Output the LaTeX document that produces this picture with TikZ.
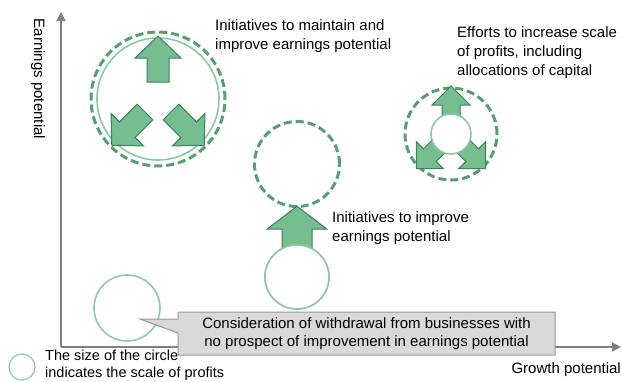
\documentclass[tikz,border=0pt]{standalone}
\usepackage{fontspec}
\setmainfont{Liberation Sans}
\usetikzlibrary{arrows.meta,shapes.callouts}

\definecolor{ringgreen}{RGB}{84,160,112}
\definecolor{palegreen}{RGB}{140,202,166}
\definecolor{arrowfill}{RGB}{118,190,146}
\definecolor{arrowedge}{RGB}{62,128,88}
\definecolor{axisgray}{RGB}{128,128,128}
\definecolor{boxfill}{RGB}{217,217,217}
\definecolor{boxedge}{RGB}{150,150,150}

\begin{document}
\begin{tikzpicture}[
  x=1pt, y=-1pt,
  lbl/.style={font=\fontsize{15}{19}\selectfont, inner sep=0pt, align=left},
  dashring/.style={circle, draw=ringgreen, line width=3pt, dash pattern=on 8pt off 4pt, inner sep=0pt},
  thinring/.style={circle, draw=palegreen, line width=1.6pt, fill=white, inner sep=0pt},
  axisline/.style={draw=axisgray, line width=2pt, -{Triangle[length=9pt,width=9pt]}},
  note/.style={rectangle callout, draw=boxedge, fill=boxfill, line width=1pt, callout pointer width=14pt,
    minimum width=377pt, minimum height=43pt, align=center, font=\fontsize{15}{18}\selectfont},
  pics/blockarrow/.style n args={4}{code={
    \filldraw[fill=arrowfill, draw=arrowedge, line width=1pt, line join=miter]
      (0,#3) -- ({#1-#4},#3) -- ({#1-#4},#2) -- (#1,0) -- ({#1-#4},-#2) -- ({#1-#4},-#3) -- (0,-#3) -- cycle;
  }}
]
\useasboundingbox (0,0) rectangle (622,381);

% axes
\coordinate (origin) at (61,347);
\coordinate (ytop) at (61,12);
\coordinate (xend) at (621,347);
\draw[axisline] (origin) -- (ytop);
\draw[axisline] (origin) -- (xend);
\node[lbl, rotate=-90] (ylabel) at (38,79) {Earnings potential};
\node[lbl, anchor=east] (xlabel) at (621,370) {Growth potential};

% maintain and improve
\node[dashring, minimum size=134pt] (maintain) at (158,99) {};
\node[thinring, minimum size=122pt] (maintaininner) at (maintain) {};
\pic[rotate=90] at (158,82) {blockarrow={46}{23}{11}{22}};
\pic[rotate=225] at (145,112) {blockarrow={47}{23}{11}{22}};
\pic[rotate=-45] at (171,112) {blockarrow={47}{23}{11}{22}};
\node[lbl, anchor=north west] (maintaintext) at (215,19) {Initiatives to maintain and\\improve earnings potential};

% scale of profits
\node[dashring, minimum size=92pt] (scale) at (451,134) {};
\pic[rotate=90] at (scale) {blockarrow={48}{19}{9}{19}};
\pic[rotate=225] at (scale) {blockarrow={49}{19}{9}{19}};
\pic[rotate=-45] at (scale) {blockarrow={49}{19}{9}{19}};
\node[thinring, minimum size=40pt] (scalecore) at (scale) {};
\node[lbl, anchor=north west] (scaletext) at (457,26) {Efforts to increase scale\\of profits, including\\allocations of capital};

% improve
\node[dashring, minimum size=85pt] (target) at (297,164) {};
\node[thinring, minimum size=64pt] (start) at (297,277) {};
\pic[rotate=90] at ([yshift=-15pt]start.north) {blockarrow={53}{30}{15}{23}};
\node[thinring, minimum size=64pt] at (start) {};
\node[lbl, anchor=north west] (improvetext) at (332,211) {Initiatives to improve\\earnings potential};

% withdrawal
\node[thinring, minimum size=66pt] (exit) at (127,308) {};
\node[note, callout absolute pointer={([xshift=13pt,yshift=-11pt]exit.center)}] (withdraw) at (366.5,333.5)
  {Consideration of withdrawal from businesses with\\no prospect of improvement in earnings potential};

% legend
\node[thinring, minimum size=26pt, line width=1.2pt] (legend) at (22,367) {};
\node[lbl, anchor=north west, font=\fontsize{14.5}{17}\selectfont] (legendtext) at (45,350)
  {The size of the circle\\indicates the scale of profits};
\end{tikzpicture}
\end{document}
